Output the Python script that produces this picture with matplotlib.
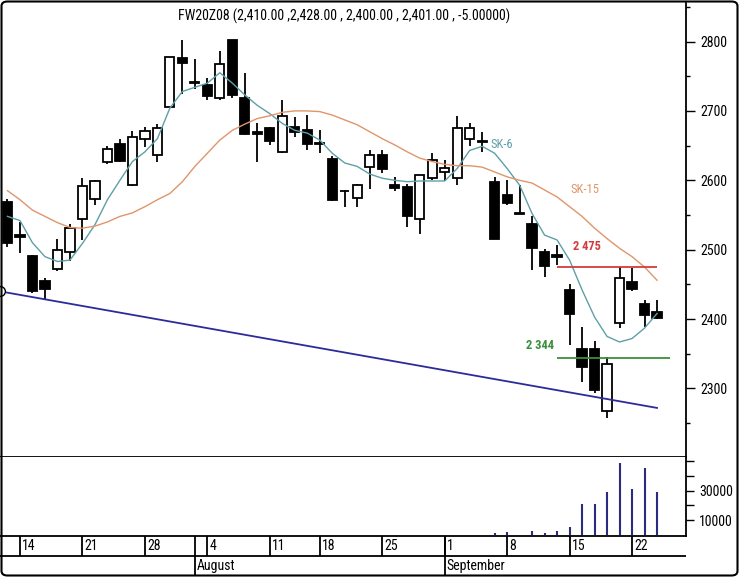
import matplotlib
matplotlib.use("Agg")
import matplotlib.pyplot as plt
import matplotlib.patches as patches
from matplotlib import font_manager as fm
import numpy as np
import pandas as pd

# the terminal uses a narrow font; take whatever narrow face is installed
installed = fm.fontManager.ttflist
names = {f.name for f in installed}
narrow = None
for cand in ['Liberation Sans Narrow', 'Arial Narrow', 'Roboto Condensed', 'Open Sans Condensed']:
    if cand in names:
        narrow = cand
        break
stretch = 'normal'
if narrow is None:
    if any(f.name == 'DejaVu Sans' and f.stretch == 'condensed' for f in installed):
        narrow = 'DejaVu Sans'
        stretch = 'condensed'
    else:
        narrow = 'Liberation Sans'
plt.rcParams['font.family'] = [narrow, 'DejaVu Sans']
plt.rcParams['font.stretch'] = stretch

# trading days (Warsaw, 15 Aug is a holiday)
dates = pd.bdate_range('2008-07-11', '2008-09-24')
dates = dates[dates != pd.Timestamp('2008-08-15')]

opens = [2569, 2521, 2491, 2455, 2472, 2496, 2544, 2573, 2627, 2652, 2593, 2660, 2636,
         2706, 2776, 2742, 2737, 2719, 2802, 2719, 2669, 2675, 2641, 2677, 2673, 2654,
         2630, 2585, 2574, 2619, 2636, 2593, 2590, 2544, 2603, 2612, 2603, 2659, 2656,
         2598, 2579, 2553, 2537, 2496, 2492, 2442, 2357, 2357, 2268, 2394, 2453, 2422, 2410]
highs = [2573, 2540, 2493, 2459, 2515, 2537, 2604, 2600, 2649, 2660, 2671, 2677, 2681,
         2778, 2802, 2775, 2748, 2787, 2802, 2754, 2682, 2677, 2715, 2691, 2694, 2672,
         2635, 2586, 2594, 2643, 2643, 2605, 2595, 2608, 2639, 2629, 2692, 2683, 2670,
         2605, 2601, 2593, 2548, 2501, 2507, 2451, 2389, 2369, 2346, 2475, 2473, 2428, 2428]
lows = [2504, 2495, 2438, 2428, 2470, 2483, 2514, 2565, 2623, 2626, 2592, 2648, 2627,
        2705, 2725, 2731, 2716, 2715, 2719, 2665, 2626, 2651, 2639, 2663, 2644, 2639,
        2570, 2562, 2561, 2588, 2611, 2584, 2533, 2523, 2600, 2599, 2593, 2649, 2641,
        2515, 2564, 2551, 2471, 2461, 2478, 2363, 2310, 2293, 2257, 2387, 2440, 2389, 2400]
closes = [2510, 2519, 2440, 2444, 2499, 2531, 2592, 2599, 2645, 2628, 2663, 2671, 2675,
          2777, 2769, 2740, 2722, 2767, 2723, 2667, 2667, 2657, 2693, 2670, 2653, 2652,
          2572, 2584, 2593, 2637, 2616, 2589, 2548, 2607, 2629, 2618, 2675, 2675, 2655,
          2516, 2568, 2552, 2502, 2476, 2490, 2407, 2331, 2298, 2335, 2459, 2444, 2406, 2401]

sk6 = [2548, 2542, 2510, 2490, 2483, 2485, 2509, 2536, 2572, 2600, 2627, 2641, 2660,
       2704, 2728, 2734, 2740, 2755, 2740, 2723, 2708, 2696, 2682, 2672, 2668, 2658,
       2639, 2625, 2620, 2609, 2603, 2600, 2598, 2599, 2599, 2599, 2617, 2643, 2649,
       2639, 2617, 2593, 2552, 2521, 2514, 2485, 2442, 2403, 2375, 2367, 2372, 2387, 2408]
sk15 = [2585, 2572, 2557, 2548, 2539, 2532, 2531, 2534, 2540, 2548, 2553, 2562, 2572,
        2581, 2598, 2620, 2639, 2658, 2672, 2681, 2689, 2693, 2698, 2700, 2700, 2699,
        2694, 2687, 2680, 2670, 2660, 2651, 2641, 2632, 2627, 2623, 2621, 2621, 2619,
        2612, 2605, 2600, 2596, 2586, 2576, 2562, 2548, 2531, 2516, 2502, 2490, 2475, 2456]

volume = [0] * 39 + [1000, 1500, 0, 2500, 1200, 2300, 5000, 20700, 20700, 28800,
                     49200, 30900, 45600, 28800]

trend_x = [-0.6, 52]
trend_y = [2440, 2272]
resist = 2475
support = 2344

title = "FW20Z08 (2,410.00 ,2,428.00 , 2,400.00 , 2,401.00 , -5.00000)"
month_names = {8: "August", 9: "September"}

W, H = 739, 577
fig = plt.figure(figsize=(W / 100, H / 100), dpi=100)


def box(x0, y0, x1, y1):
    return [x0 / W, 1 - y1 / H, (x1 - x0) / W, (y1 - y0) / H]


ax = fig.add_axes(box(0, 3, 686, 456.7))
axv = fig.add_axes(box(0, 456.7, 686, 535.7))
axd = fig.add_axes(box(0, 535.7, 686, 576))

x = np.arange(len(dates))
o = np.array(opens); c = np.array(closes)
up = c >= o

# candles
ax.vlines(x, lows, highs, color='black', lw=1.3, zorder=2)
ax.bar(x, np.abs(c - o), bottom=np.minimum(o, c), width=0.74,
       color=np.where(up, 'white', 'black'), edgecolor='black', lw=1.3, zorder=3)

ax.plot(x, sk6, color='#5e9fa8', lw=1.0, zorder=4)
ax.plot(x, sk15, color='#e0956a', lw=1.0, zorder=4)
ax.plot(trend_x, trend_y, color='#2b2b9b', lw=1.3, zorder=4)
ax.plot(trend_x[0], trend_y[0], 'o', ms=7, mfc='white', mec='black', mew=1, clip_on=True, zorder=5)
ax.hlines(resist, 44, 52, color='#d23c3c', lw=1.3, zorder=4)
ax.hlines(support, 44, 53, color='#3a8f3a', lw=1.3, zorder=4)

ax.text(38.63, 2652, "SK-6", color='#5e9fa8', fontsize=9, va='center', ha='left')
ax.text(45.04, 2587, "SK-15", color='#e0956a', fontsize=9, va='center', ha='left')
ax.text(45.28, 2504, "2 475", color='#d23c3c', fontsize=9, va='center', ha='left', fontweight='bold')
ax.text(41.51, 2362, "2 344", color='#3a8f3a', fontsize=9, va='center', ha='left', fontweight='bold')

ax.set_xlim(-0.6, 54.32)
ax.set_ylim(2201.7, 2855.5)
ax.yaxis.tick_right()
ax.set_yticks(np.arange(2300, 2801, 100))
ax.set_yticks(np.arange(2250, 2851, 100), minor=True)
ax.tick_params(axis='y', which='major', direction='out', length=6.5, width=1, labelsize=10, pad=4)
ax.tick_params(axis='y', which='minor', direction='out', length=3, width=1)
ax.set_xticks([])
for s in ['left', 'top']:
    ax.spines[s].set_visible(False)
for s in ['bottom', 'right']:
    ax.spines[s].set_linewidth(1.3)

# volume
axv.vlines(x, 0, volume, color='#2b2b80', lw=1.5)
axv.set_xlim(-0.6, 54.32)
axv.set_ylim(-700, 53200)
axv.yaxis.tick_right()
axv.set_yticks([10000, 20000, 30000, 40000, 50000])
axv.set_yticklabels(['10000', '', '30000', '', ''])
axv.tick_params(axis='y', direction='out', length=5.5, width=1, labelsize=10, pad=4)
axv.set_xticks([])
for s in ['left', 'top']:
    axv.spines[s].set_visible(False)
for s in ['bottom', 'right']:
    axv.spines[s].set_linewidth(1.3)

# date rows
row = (576 - 556) / (576 - 535.7)
axd.set_xlim(-0.6, 54.32)
axd.set_ylim(0, 1)
axd.axis('off')
axd.axhline(row, color='black', lw=1.3)
for i in range(1, len(dates)):
    d, p = dates[i], dates[i - 1]
    if d.month != p.month:
        axd.vlines(i, 0, 1, color='black', lw=1.3)
        axd.text(i + 0.12, row / 2, month_names[d.month], fontsize=10, ha='left', va='center')
    if d.isocalendar()[1] != p.isocalendar()[1]:
        axd.vlines(i, row, 1, color='black', lw=1.3)
        axd.text(i + 0.16, (1 + row) / 2, str(d.day), fontsize=10, ha='left', va='center')

t = fig.text(178 / W, 1 - 16.7 / H, title, fontsize=10, ha='left', va='center')
# the reference title is about 328 px wide
fig.canvas.draw()
wpx = t.get_window_extent(fig.canvas.get_renderer()).width
if wpx > 340:
    t.set_fontsize(10 * 328 / wpx)

frame = patches.FancyBboxPatch((1.5 / W, 1.5 / H), 736 / W, 574 / H,
                               boxstyle='round,pad=0,rounding_size=0.008',
                               transform=fig.transFigure, fill=False, lw=1.5, edgecolor='black')
fig.patches.append(frame)

plt.savefig('out.png', dpi=100)
